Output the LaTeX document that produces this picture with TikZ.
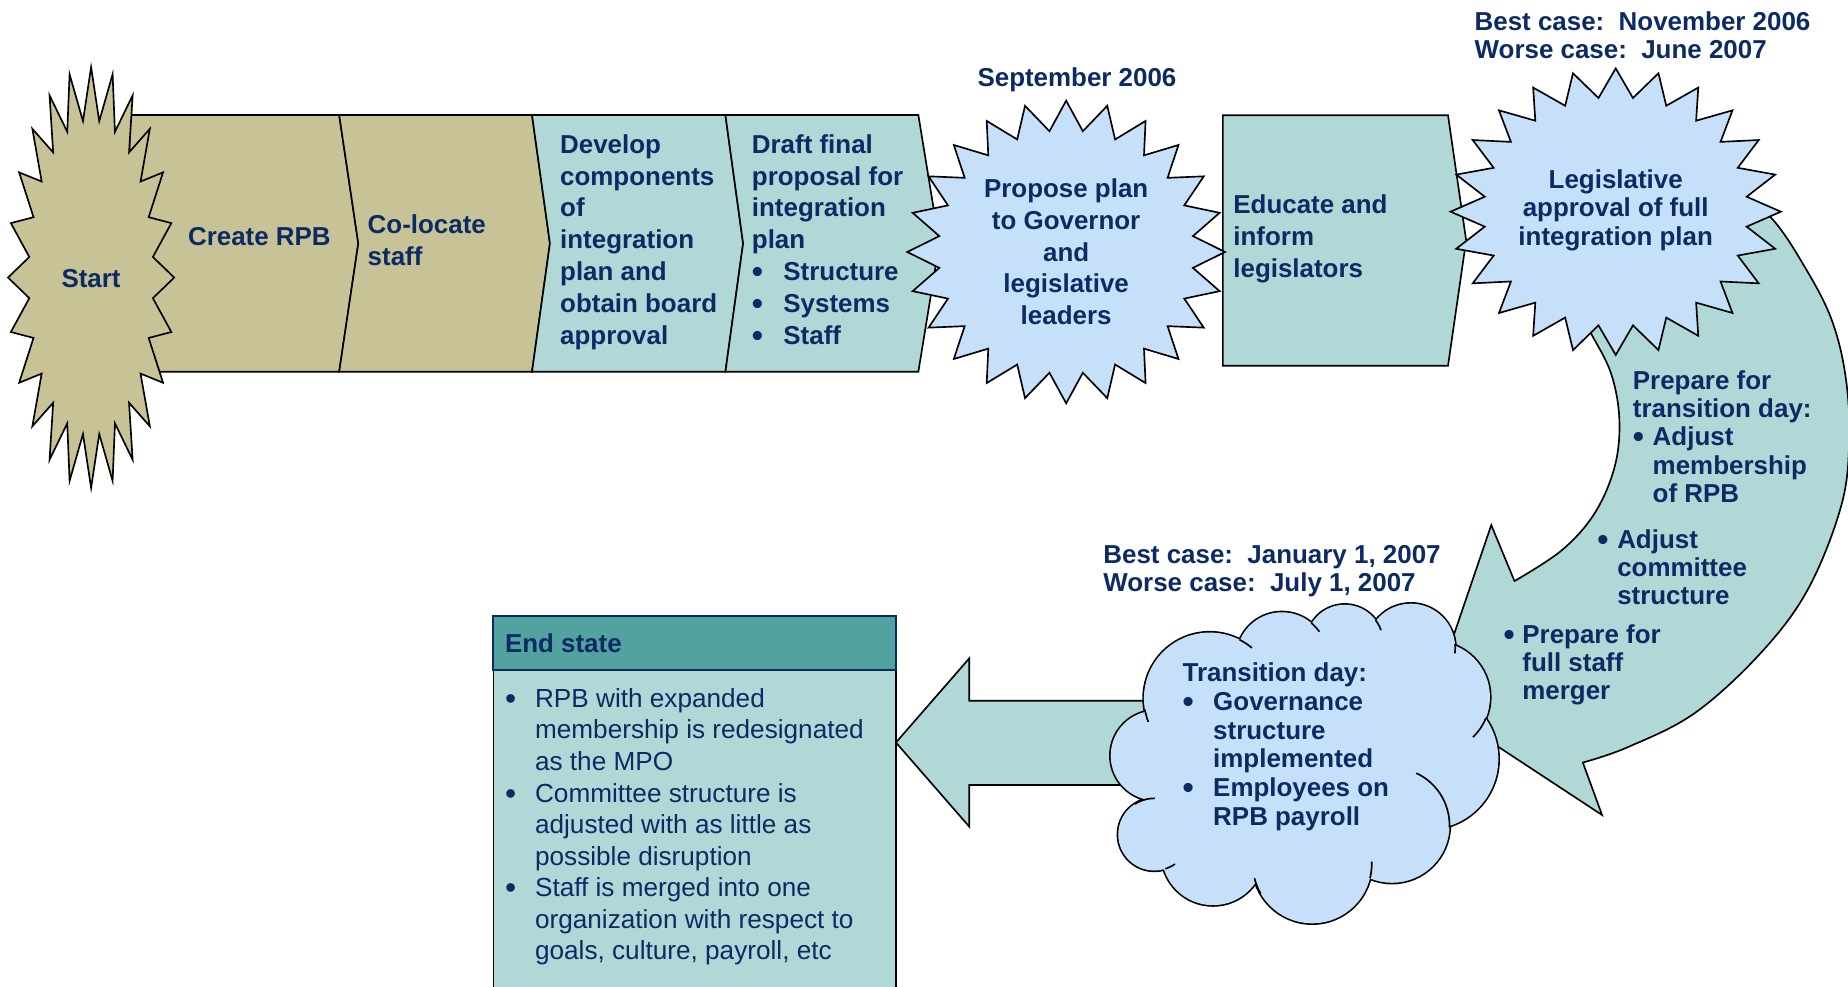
\documentclass[tikz,border=0pt]{standalone}
\usepackage{fontspec}
\setmainfont{Liberation Sans}
\definecolor{bandtan}{RGB}{200,195,150}
\definecolor{tealfill}{RGB}{176,216,214}
\definecolor{skyfill}{RGB}{198,224,249}
\definecolor{headteal}{RGB}{82,162,160}
\definecolor{navytxt}{RGB}{12,42,100}
\newcommand\starb[6]{%
  \draw[#1] plot[variable=\k, samples at={0,...,47}]
    ({#2+ifthenelse(isodd(\k),#6,1)*#4*cos(\k*7.5)},{#3+ifthenelse(isodd(\k),#6,1)*#5*sin(\k*7.5)}) -- cycle;}
\newcommand\tailarc[5]{\draw[outl] plot[variable=\t,domain=#4:#5,samples=16] ({#1+#3*cos(\t)},{#2+#3*sin(\t)});}
\newcommand\bigbul{\raisebox{-0.9pt}{\fontsize{13.5}{13.5}\selectfont •}}
\newcommand\itm[2]{\makebox[#1][l]{\bigbul}#2}
\newcommand\ind[1]{\hspace*{#1}}
\newcommand\ltext[1]{\parbox[t]{9cm}{\raggedright #1}}
\newcommand\ctext[1]{\parbox[t]{5cm}{\centering #1}}
\newcommand\cloudlist{1026.4/592.5/55.8, 1087.7/558.2/38.7, 1141/545.8/32.7, 1197.1/549.8/37.6, 1217.1/591.5/47.1, 1211.6/643.9/59.7, 1181.1/700.2/48.8, 1113.4/732.9/50.5, 1029.2/724.4/43.6, 979.4/708/30.6, 980.5/641.1/38.1}
\begin{document}
\begin{tikzpicture}[x=0.5pt,y=-0.5pt,
  outl/.style={draw=black, line width=0.7pt},
  tanshape/.style={outl, fill=bandtan},
  tealshape/.style={outl, fill=tealfill},
  skyshape/.style={outl, fill=skyfill},
  lbl/.style={inner sep=0pt, outer sep=0pt, text=navytxt, font=\bfseries\fontsize{11}{13.5}\selectfont},
  lbls/.style={lbl, font=\bfseries\fontsize{11}{12}\selectfont},
  lblr/.style={lbl, font=\mdseries\fontsize{11.1}{13.4}\selectfont}]
\useasboundingbox (0,0) rectangle (1568,837);

% band of steps
\draw[tanshape] (110,97.6) -- (287.8,97.6) -- (304,206.5) -- (287.8,315.4) -- (110,315.4) -- cycle;
\draw[tanshape] (287.8,97.6) -- (451.4,97.6) -- (466.6,206.5) -- (451.4,315.4) -- (287.8,315.4) -- (304,206.5) -- cycle;
\draw[tealshape] (451.4,97.6) -- (615.5,97.6) -- (630.5,206.5) -- (615.5,315.4) -- (451.4,315.4) -- (466.6,206.5) -- cycle;
\draw[tealshape] (615.5,97.6) -- (779.2,97.6) -- (797,206.5) -- (779.2,315.4) -- (615.5,315.4) -- (630.5,206.5) -- cycle;

% start burst
\starb{tanshape}{77.3}{235.5}{70.5}{178.5}{0.75}

% educate box
\draw[tealshape] (1037.6,97.8) -- (1228.6,97.8) -- (1244,204) -- (1228.6,310.3) -- (1037.6,310.3) -- cycle;

% propose burst
\starb{skyshape}{904.6}{213.8}{134.8}{128.4}{0.805}

% curved arrow
\draw[tealshape] plot[smooth, tension=0.6] coordinates {(1470,160) (1503,185) (1531,226) (1554,271) (1566,320) (1569,375) (1562,430) (1534,500) (1494,554) (1438,605) (1381,634) (1343,647)}
  -- (1359.3,691.5) -- (1214,596) -- (1265.3,445.5) -- (1285,493)
  -- plot[smooth, tension=0.6] coordinates {(1285,493) (1325,467) (1353,435.5) (1370,396) (1374,356) (1367,317) (1350,283) (1338,262)} -- cycle;

% legislative burst
\starb{skyshape}{1370.9}{179.6}{140.1}{121.6}{0.8}

% left block arrow
\draw[tealshape] (760.2,630) -- (822.4,558.6) -- (822.4,594.5) -- (1000,594.5) -- (1000,666) -- (822.4,666) -- (822.4,701.4) -- cycle;

% cloud
\draw[draw=black, line width=1.4pt] foreach \cx/\cy/\cr in \cloudlist {(\cx,\cy) circle[radius=\cr]};
\fill[skyfill] foreach \cx/\cy/\cr in \cloudlist {(\cx,\cy) circle[radius=\cr]};
\fill[skyfill] (1026.4,592.5) -- (1087.7,558.2) -- (1141,545.8) -- (1197.1,549.8) -- (1217.1,591.5) -- (1211.6,643.9) -- (1181.1,700.2) -- (1113.4,732.9) -- (1029.2,724.4) -- (979.4,708) -- (980.5,641.1) -- cycle;
\tailarc{1026.4}{592.5}{55.8}{-63}{-50}
\tailarc{1026.4}{592.5}{55.8}{159}{170}
\tailarc{1087.7}{558.2}{38.7}{-50}{-35}
\tailarc{1141}{545.8}{32.7}{-37}{-20}
\tailarc{1197.1}{549.8}{37.6}{-5}{7}
\tailarc{1217.1}{591.5}{47.1}{22}{46}
\tailarc{1181.1}{700.2}{48.8}{-65}{2}
\tailarc{1113.4}{732.9}{50.5}{-2}{14}
\tailarc{1113.4}{732.9}{50.5}{150}{166}
\tailarc{979.4}{708}{30.6}{55}{72}
\tailarc{979.4}{708}{30.6}{237}{271}

% end state box
\draw[tealshape] (418.6,568.5) rectangle (760.2,850);
\draw[draw=navytxt, line width=0.8pt, fill=headteal] (418.6,522.7) rectangle (760.2,568.5);

% texts
\node[lbl, anchor=base] (tstart) at (77.3,243.8) {Start};
\node[lbl, anchor=base west] (tcreate) at (159.6,208) {Create RPB};
\node[lbl, anchor=base west] (tcoloc) at (312,198) {\ltext{Co-locate\\staff}};
\node[lbl, anchor=base west] (tdevelop) at (475.3,130) {\ltext{Develop\\components\\of\\integration\\plan and\\obtain board\\approval}};
\node[lbl, anchor=base west] (tdraft) at (638,130) {\ltext{Draft final\\proposal for\\integration\\plan\\\itm{13.35pt}{Structure}\\\itm{13.35pt}{Systems}\\\itm{13.35pt}{Staff}}};
\node[lbls, anchor=base] (tsept) at (913.8,73.5) {September 2006};
\node[lbl, anchor=base] (tpropose) at (904.6,167.5) {\ctext{Propose plan\\to Governor\\and\\legislative\\leaders}};
\node[lbl, anchor=base west] (teducate) at (1046.5,181.5) {\ltext{Educate and\\inform\\legislators}};
\node[lbls, anchor=base west] (tbestnov) at (1251.2,26) {\ltext{Best case:\ \ November 2006\\Worse case:\ \ June 2007}};
\node[lbls, anchor=base] (tlegis) at (1370.9,160) {\ctext{Legislative\\approval of full\\integration plan}};
\node[lbls, anchor=base west] (tprep) at (1385.5,330.3) {\ltext{Prepare for\\transition day:\\\itm{8.4pt}{Adjust}\\\ind{8.4pt}membership\\\ind{8.4pt}of RPB}};
\node[lbls, anchor=base west] (tcomm) at (1355.4,465.3) {\ltext{\itm{8.4pt}{Adjust}\\\ind{8.4pt}committee\\\ind{8.4pt}structure}};
\node[lbls, anchor=base west] (tmerge) at (1275.7,545.8) {\ltext{\itm{8pt}{Prepare for}\\\ind{8pt}full staff\\\ind{8pt}merger}};
\node[lbls, anchor=base west] (tbestjan) at (936.2,478) {\ltext{Best case:\ \ January 1, 2007\\Worse case:\ \ July 1, 2007}};
\node[lbl, font=\bfseries\fontsize{11}{12.2}\selectfont, anchor=base west] (tcloud) at (1003.4,578.4) {\ltext{Transition day:\\\itm{13pt}{Governance}\\\ind{13pt}structure\\\ind{13pt}implemented\\\itm{13pt}{Employees on}\\\ind{13pt}RPB payroll}};
\node[lbl, anchor=base west] (tendhead) at (428.5,553.8) {End state};
\node[lblr, anchor=base west] (tendbody) at (428.5,600.1) {\ltext{\itm{12.75pt}{RPB with expanded}\\\ind{12.75pt}membership is redesignated\\\ind{12.75pt}as the MPO\\\itm{12.75pt}{Committee structure is}\\\ind{12.75pt}adjusted with as little as\\\ind{12.75pt}possible disruption\\\itm{12.75pt}{Staff is merged into one}\\\ind{12.75pt}organization with respect to\\\ind{12.75pt}goals, culture, payroll, etc}};
\end{tikzpicture}
\end{document}
